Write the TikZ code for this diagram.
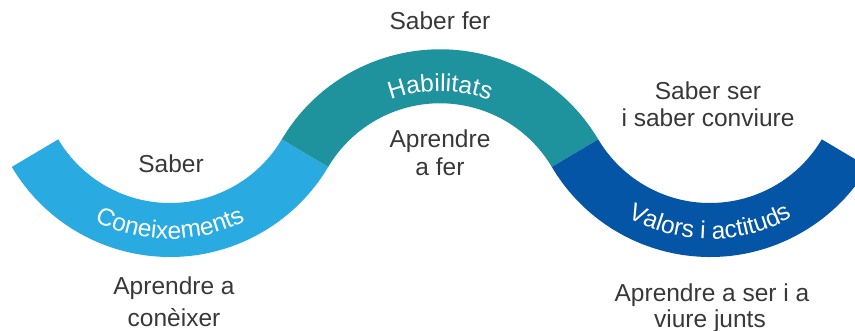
\documentclass[tikz,border=0pt]{standalone}
\usepackage{fontspec}
\setmainfont{Liberation Sans}
\usetikzlibrary{calc,decorations.text}
\definecolor{lblue}{HTML}{29ABE2}
\definecolor{tealband}{HTML}{1E939D}
\definecolor{dblue}{HTML}{0455A5}
\definecolor{txtgray}{HTML}{383838}
\newcommand\mybandfont{\fontsize{24.5}{29}\selectfont\color{white}}
\begin{document}
\begin{tikzpicture}[x=1pt,y=1pt,
  lbl/.style={text=txtgray, font=\fontsize{24.5}{29}\selectfont, anchor=base, inner sep=0pt},
  bandlabel/.style={decorate, decoration={text along path, text align=center, text={|\mybandfont|#1}}}
]
\useasboundingbox (0,0) rectangle (855,331);
\clip (0,0) rectangle (855,331);
\coordinate (A) at (170,258);
\coordinate (B) at (440,97.7);
\coordinate (C) at (710,258);
% bands
\fill[lblue] ($(A)+(210.7:184pt)$) arc[start angle=210.7,end angle=329.3,radius=184pt]
  -- ($(A)+(329.3:130pt)$) arc[start angle=329.3,end angle=210.7,radius=130pt] -- cycle;
\fill[tealband] ($(B)+(149.3:184pt)$) arc[start angle=149.3,end angle=30.7,radius=184pt]
  -- ($(B)+(30.7:130pt)$) arc[start angle=30.7,end angle=149.3,radius=130pt] -- cycle;
\fill[dblue] ($(C)+(210.7:184pt)$) arc[start angle=210.7,end angle=329.3,radius=184pt]
  -- ($(C)+(329.3:130pt)$) arc[start angle=329.3,end angle=210.7,radius=130pt] -- cycle;
% band labels
\path[bandlabel={Coneixements}] ($(A)+(200:166pt)$) arc[start angle=200,end angle=340,radius=166pt];
\path[bandlabel={Habilitats}] ($(B)+(150:142pt)$) arc[start angle=150,end angle=30,radius=142pt];
\path[bandlabel={Valors i actituds}] ($(C)+(200:166pt)$) arc[start angle=200,end angle=340,radius=166pt];
% texts
\node[lbl] (sf) at (440,301) {Saber fer};
\node[lbl] (s) at (171,158) {Saber};
\node[lbl] (ap1) at (440,183) {Aprendre};
\node[lbl] (ap2) at (440,155) {a fer};
\node[lbl] (ss1) at (708,231) {Saber ser};
\node[lbl] (ss2) at (708,204) {i saber conviure};
\node[lbl] (ac1) at (174,36) {Aprendre a};
\node[lbl] (ac2) at (174,4) {conèixer};
\node[lbl] (as1) at (712,29) {Aprendre a ser i a};
\node[lbl] (as2) at (710,3) {viure junts};
\end{tikzpicture}
\end{document}
